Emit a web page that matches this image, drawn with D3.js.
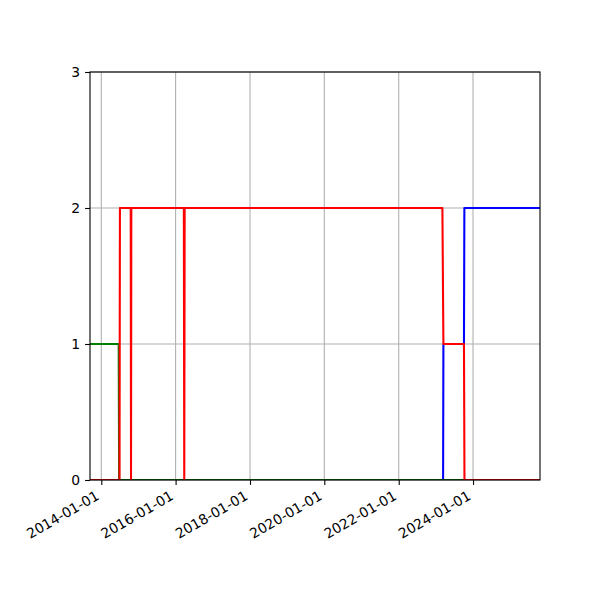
<!DOCTYPE html>
<html>
<head>
<meta charset="utf-8">
<script src="https://cdn.jsdelivr.net/npm/d3@7"></script>
<style>
  html, body { margin: 0; padding: 0; background: #fff; }
  text { font-family: "DejaVu Sans", sans-serif; fill: #000; }
</style>
</head>
<body>
<svg id="chart" width="600" height="600"></svg>
<script>
// ---- data ----
const xDomainDates = ["2013-09-12", "2025-10-20"];
const xTickDates = ["2014-01-01", "2016-01-01", "2018-01-01", "2020-01-01", "2022-01-01", "2024-01-01"];
const yTicks = [0, 1, 2, 3];

const blueDates  = ["2013-09-12", "2023-03-13", "2023-03-16", "2023-10-04", "2023-10-08", "2025-10-20"];
const blueValues = [0, 0, 1, 1, 2, 2];

const greenDates  = ["2013-09-12", "2014-06-21", "2014-06-25", "2025-10-20"];
const greenValues = [1, 1, 0, 0];

const redDates  = ["2013-09-12", "2014-06-29", "2014-07-03", "2014-10-17", "2014-10-20", "2014-10-23",
                   "2016-03-22", "2016-03-26", "2016-03-30", "2023-03-06", "2023-03-16",
                   "2023-10-04", "2023-10-09", "2025-10-20"];
const redValues = [0, 0, 2, 2, 0, 2, 2, 0, 2, 2, 1, 1, 0, 0];

const seriesColors = ["#0000ff", "#008000", "#ff0000"];

(function () {
// ---- layout ----
const mLeft = 90, mRight = 540, mTop = 72, mBottom = 480;
const fontPx = 13.9;
const tickLen = 4.9, pad = 4.9;

const parse = d3.utcParse("%Y-%m-%d");
const fmt = d3.utcFormat("%Y-%m-%d");

const x = d3.scaleUtc().domain(xDomainDates.map(parse)).range([mLeft, mRight]);
const y = d3.scaleLinear().domain([0, 3]).range([mBottom, mTop]);

const svg = d3.select("#chart");

svg.append("defs").append("clipPath").attr("id", "clip")
  .append("rect").attr("x", mLeft).attr("y", mTop).attr("width", mRight - mLeft).attr("height", mBottom - mTop);

// grid
const grid = svg.append("g");
grid.selectAll("line.gx").data(xTickDates.map(parse)).join("line").attr("class", "gx")
  .attr("x1", d => x(d)).attr("x2", d => x(d))
  .attr("y1", mTop).attr("y2", mBottom)
  .attr("stroke", "#b0b0b0").attr("stroke-width", 1.1);
grid.selectAll("line.gy").data(yTicks).join("line").attr("class", "gy")
  .attr("x1", mLeft).attr("x2", mRight)
  .attr("y1", d => y(d)).attr("y2", d => y(d))
  .attr("stroke", "#b0b0b0").attr("stroke-width", 1.1);

// series
const series = [
  {dates: blueDates, values: blueValues},
  {dates: greenDates, values: greenValues},
  {dates: redDates, values: redValues}
];
const line = d3.line().x(d => x(d[0])).y(d => y(d[1]));
const lines = svg.append("g").attr("clip-path", "url(#clip)");
series.forEach((s, i) => {
  const pts = s.dates.map((d, j) => [parse(d), s.values[j]]);
  lines.append("path").datum(pts)
    .attr("d", line)
    .attr("fill", "none")
    .attr("stroke", seriesColors[i])
    .attr("stroke-width", 2.08)
    .attr("stroke-linejoin", "round")
    .attr("stroke-linecap", "butt");
});

// axes
const xAxis = d3.axisBottom(x).tickValues(xTickDates.map(parse)).tickSize(tickLen).tickPadding(pad).tickFormat(fmt);
const gx = svg.append("g").attr("transform", `translate(0,${mBottom})`).call(xAxis);
gx.select(".domain").remove();
gx.selectAll(".tick line").attr("stroke", "#000").attr("stroke-width", 1.1);
const Hbox = 0.97 * fontPx, desc = 0.236 * fontPx;
gx.selectAll(".tick text")
  .attr("font-size", fontPx)
  .attr("font-family", "DejaVu Sans")
  .attr("text-anchor", "end")
  .attr("x", null).attr("dy", null)
  .attr("y", -desc)
  .attr("transform", `translate(0,${tickLen + pad + Hbox * Math.cos(Math.PI / 6)}) rotate(-30)`);

const yAxis = d3.axisLeft(y).tickValues(yTicks).tickSize(tickLen).tickPadding(pad).tickFormat(d3.format("d"));
const gy = svg.append("g").attr("transform", `translate(${mLeft},0)`).call(yAxis);
gy.select(".domain").remove();
gy.selectAll(".tick line").attr("stroke", "#000").attr("stroke-width", 1.1);
gy.selectAll(".tick text").attr("font-size", fontPx).attr("font-family", "DejaVu Sans");

// spines
svg.append("rect").attr("x", mLeft).attr("y", mTop).attr("width", mRight - mLeft).attr("height", mBottom - mTop)
  .attr("fill", "none").attr("stroke", "#000").attr("stroke-width", 1.1);
})();
</script>
</body>
</html>
